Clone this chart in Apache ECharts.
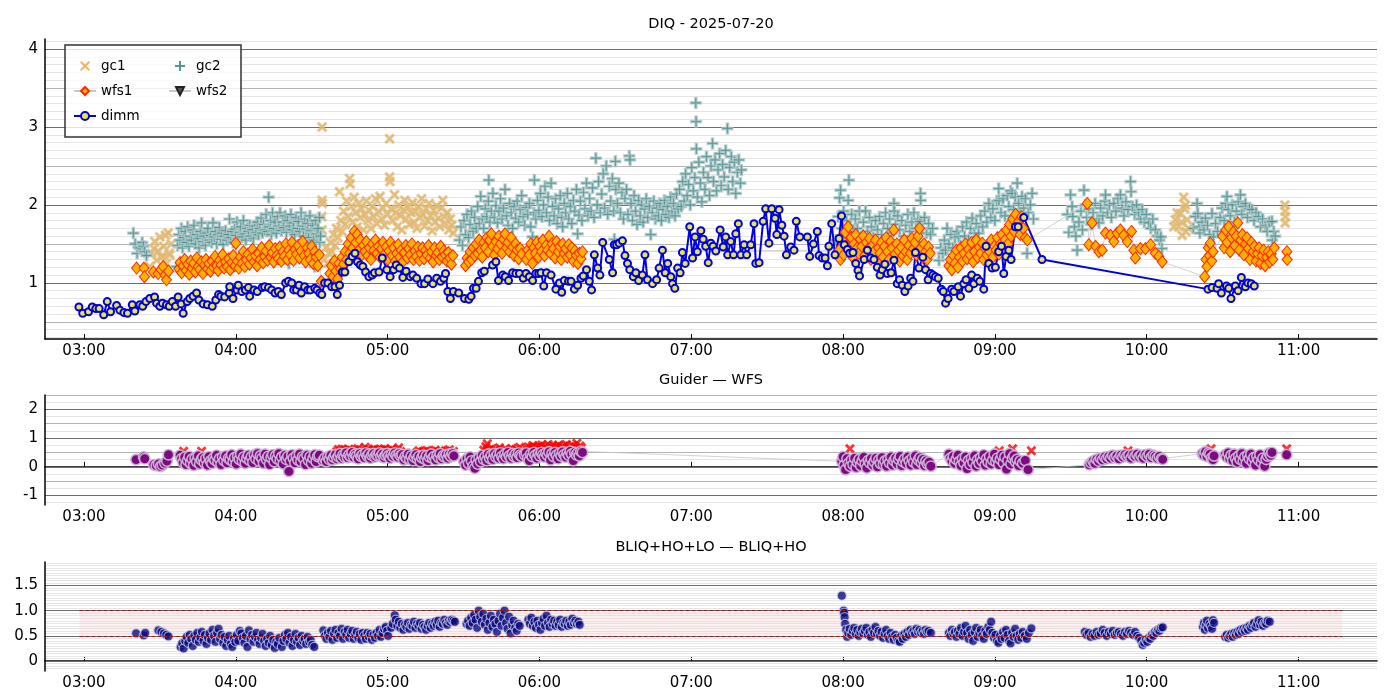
<!DOCTYPE html>
<html>
<head>
<meta charset="utf-8">
<script src="https://cdn.jsdelivr.net/npm/echarts@6/dist/echarts.min.js"></script>
<style>
  html, body { margin: 0; padding: 0; background: #fff; }
  #main { width: 1400px; height: 700px; }
</style>
</head>
<body>
<div id="main"></div>
<script>
// time = minutes after 00:00 UTC

var hourTicks = [180, 240, 300, 360, 420, 480, 540, 600, 660];

var gc1Points = [
  [206.0,1.21],[206.7,1.38],[207.6,1.44],[208.0,1.53],[208.7,1.29],[209.3,1.41],[210.0,1.59],[210.5,1.33],[211.0,1.34],[211.5,1.47],[212.2,1.61],[212.6,1.25],[213.3,1.64],[213.6,1.38],[214.0,1.36],[214.5,1.50],
  [274.1,3.00],[274.1,2.06],[274.2,2.02],[274.0,1.85],[274.1,1.68],
  [275.0,1.30],[275.6,1.45],[276.2,1.25],[276.8,1.38],[277.4,1.52],[278.0,1.40],[278.6,1.62],[279.2,1.48],[279.8,1.70],[280.4,1.58],[281.0,2.17],[281.5,1.80],[282.0,1.66],[282.6,1.92],[283.2,1.75],[283.8,2.05],[284.4,1.85],[285.0,2.34],[285.2,2.27],[285.6,1.98],[286.2,1.78],[286.8,2.10],[287.4,1.90],[288.0,1.72],[288.6,2.02],[289.2,1.84],[289.8,1.95],[290.4,1.68],[291.0,1.88],[291.6,2.05],[292.2,1.80],[292.8,1.93],[293.4,1.70],[294.0,1.98],[294.6,1.85],[295.2,2.08],[295.8,1.76],[296.4,1.92],[297.0,2.11],[297.6,1.82],[298.2,1.96],[298.8,1.74],[299.4,2.02],[300.0,1.88],[300.8,2.85],[300.8,2.36],[300.9,2.30],[301.4,1.95],[302.0,1.80],[302.7,2.13],[303.2,1.90],[303.8,1.72],[304.4,2.00],[305.0,1.86],[305.6,1.68],[306.2,1.94],[306.8,2.06],[307.4,1.82],[308.0,1.97],[308.6,1.75],[309.2,1.90],[309.8,2.03],[310.4,1.78],[311.0,1.92],[311.6,1.70],[312.2,1.98],[312.8,1.84],[313.4,2.08],[314.0,1.88],[314.6,1.73],[315.2,1.95],[315.8,1.80],[316.4,2.02],[317.0,1.86],[317.6,1.67],[318.2,1.93],[318.8,1.78],[319.4,1.99],[320.0,1.83],[320.6,1.72],[321.2,1.96],[321.8,2.06],[322.4,1.85],[323.0,1.76],[323.6,1.90],[324.2,1.68],[324.8,1.82],[325.4,1.74],[326.0,1.64],
  [610.7,1.72],[611.3,1.81],[612.0,1.90],[612.6,1.72],[613.3,1.89],[613.8,1.78],[614.0,1.61],[614.6,2.10],[615.0,1.95],[615.3,2.00],[615.5,1.66],[616.0,1.81],[616.5,1.70],
  [654.6,2.00],[654.7,1.92],[654.8,1.85],[654.7,1.77]
];

var gc2Points = [
  [199.5,1.64],[200.2,1.50],[201.0,1.38],[201.5,1.46],[202.2,1.45],[203.0,1.52],[203.5,1.47],[204.0,1.40],[204.7,1.35],
  [216.6,1.21],[217.0,1.48],[217.5,1.62],[218.0,1.55],[218.5,1.70],[219.0,1.45],[219.5,1.58],[220.0,1.66],[220.5,1.52],[221.0,1.72],[221.5,1.47],[222.0,1.60],[222.5,1.55],[223.0,1.68],[223.5,1.74],[224.0,1.50],[224.5,1.62],[225.0,1.57],[225.5,1.45],[226.0,1.66],[226.5,1.77],[227.0,1.53],[227.5,1.60],[228.0,1.48],[228.5,1.64],[229.0,1.70],[229.5,1.55],[230.0,1.61],[230.5,1.52],[231.0,1.77],[231.5,1.59],[232.0,1.66],[232.5,1.50],[233.0,1.62],[233.5,1.71],[234.0,1.56],[234.5,1.64],[235.0,1.49],[235.5,1.60],[236.0,1.67],[236.5,1.55],[237.0,1.62],[237.5,1.82],[238.0,1.58],[238.5,1.66],[239.0,1.52],[239.5,1.69],[240.0,1.61],[240.5,1.78],[241.0,1.57],[241.5,1.65],[242.0,1.72],[242.5,1.59],[243.0,1.80],[243.5,1.63],[244.0,1.55],[244.5,1.70],[245.0,1.66],[245.5,1.74],[246.0,1.60],[246.5,1.68],[247.0,1.57],[247.5,1.73],[248.0,1.65],[248.5,1.78],[249.0,1.62],[249.5,1.70],[250.0,1.83],[250.5,1.64],[251.0,1.75],[251.5,1.68],[252.0,1.88],[252.5,1.66],[253.0,2.10],[253.2,1.72],[253.7,1.80],[254.0,1.62],[254.5,1.90],[255.0,1.70],[255.5,1.78],[256.0,1.64],[256.5,1.85],[257.0,1.73],[257.5,1.90],[258.0,1.67],[258.5,1.78],[259.0,1.71],[259.5,1.86],[260.0,1.65],[260.5,1.80],[261.0,1.25],[261.3,1.73],[261.8,1.88],[262.3,1.68],[262.8,1.77],[263.3,1.62],[263.8,1.84],[264.3,1.70],[264.8,1.79],[265.3,1.66],[265.8,1.90],[266.3,1.73],[266.8,1.60],[267.3,1.82],[267.8,1.69],[268.3,1.76],[268.8,1.58],[269.3,1.86],[269.8,1.67],[270.3,1.74],[270.8,1.55],[271.2,1.21],[271.5,1.80],[272.0,1.63],[272.5,1.70],[273.0,1.84],[273.2,1.52],[273.5,1.60],
  [328.4,1.55],[329.0,1.72],[329.6,1.48],[330.2,1.80],[330.8,1.62],[331.4,1.88],[332.0,1.58],[332.6,1.75],[333.2,1.92],[333.8,1.66],[334.4,1.84],[335.0,1.70],[335.6,1.98],[336.2,1.76],[336.8,2.11],[337.4,1.82],[338.0,1.70],[338.6,1.95],[339.2,1.85],[339.8,2.05],[340.0,2.32],[340.4,1.78],[341.0,1.92],[341.6,2.15],[342.2,1.84],[342.8,1.99],[343.4,1.77],[344.0,1.92],[344.6,2.08],[345.2,1.82],[345.8,1.96],[346.4,2.20],[347.0,1.86],[347.6,1.74],[348.2,2.02],[348.8,1.90],[349.4,1.70],[350.0,1.98],[350.6,1.83],[351.2,2.05],[351.8,1.78],[352.4,1.94],[353.0,2.12],[353.6,1.85],[354.2,1.74],[354.8,1.97],[355.4,1.88],[356.0,2.02],[356.6,1.72],[357.3,1.59],[357.8,1.90],[358.0,2.32],[358.6,1.82],[359.2,2.06],[359.8,1.93],[360.4,2.15],[361.0,1.85],[361.6,2.00],[362.2,2.24],[362.8,1.90],[363.4,2.10],[364.0,1.80],[364.6,2.28],[365.2,1.98],[365.8,1.86],[366.4,2.08],[367.0,1.76],[367.6,1.95],[368.2,2.12],[368.8,1.84],[369.2,1.72],[369.8,2.02],[370.4,1.90],[371.0,2.15],[371.6,1.82],[372.2,1.98],[372.8,1.76],[373.4,2.06],[374.0,1.92],[374.6,2.20],[375.1,1.63],[375.6,1.87],[376.2,2.05],[376.8,1.80],[377.4,2.16],[378.0,1.95],[378.6,2.28],[379.2,1.86],[379.8,2.08],[380.4,1.92],[381.0,2.22],[381.6,1.84],[382.3,2.60],[382.8,2.00],[383.4,2.30],[384.0,1.90],[384.6,2.14],[385.2,2.40],[385.8,1.96],[386.4,2.50],[387.0,1.88],[387.6,2.24],[388.2,2.05],[388.8,2.34],[389.4,1.92],[389.6,1.56],[390.0,2.56],[390.2,2.20],[390.8,2.02],[391.4,2.28],[392.0,1.90],[392.6,2.16],[393.2,1.82],[393.8,2.08],[394.4,2.20],[395.0,1.88],[395.5,2.63],[395.8,2.58],[396.2,2.02],[396.8,1.80],[397.4,2.12],[398.0,1.92],[398.6,1.75],[399.2,2.06],[399.8,1.86],[400.4,2.00],[401.0,1.78],[401.6,1.95],[402.2,2.08],[402.8,1.84],[403.4,1.98],[404.0,1.62],[404.6,1.90],[405.2,2.05],[405.8,1.82],[406.4,1.96],[407.0,1.86],[407.6,2.02],[408.2,1.80],[408.8,1.94],[409.4,2.06],[410.0,1.88],[410.6,1.98],[411.2,1.84],[411.8,2.10],[412.4,1.92],[413.0,2.02],[413.6,1.86],[414.2,2.14],[414.8,1.95],[415.4,2.20],[416.0,1.98],[416.6,2.30],[417.2,2.05],[417.8,2.40],[418.4,2.12],[419.0,2.26],[419.6,2.00],[420.2,2.48],[420.8,2.18],[421.4,2.35],[421.8,3.31],[421.9,3.07],[422.0,2.72],[422.4,2.10],[423.0,2.55],[423.6,2.28],[424.2,2.04],[424.8,2.42],[425.4,2.20],[426.0,2.62],[426.6,2.35],[427.2,2.12],[427.8,2.50],[428.4,2.79],[428.8,2.30],[429.4,2.58],[430.0,2.18],[430.6,2.45],[431.2,2.66],[431.8,2.25],[432.4,2.52],[433.0,2.36],[433.6,2.70],[434.3,2.98],[434.6,2.20],[435.2,2.48],[435.8,2.62],[436.4,2.30],[437.0,2.55],[437.6,2.15],[438.2,2.42],[438.8,2.58],[439.4,2.28],[439.8,2.45],
  [477.2,1.55],[478.0,1.85],[478.6,2.09],[479.0,2.19],[479.5,1.70],[480.2,1.92],[480.8,1.62],[481.4,1.80],[482.0,2.06],[482.3,2.32],[482.8,1.74],[483.4,1.88],[484.0,1.66],[484.8,1.82],[485.6,1.70],[486.4,1.92],[487.2,1.60],[488.0,1.78],[488.9,1.92],[489.6,1.66],[490.4,1.84],[491.2,1.72],[492.0,1.58],[492.8,1.80],[493.6,1.68],[494.4,1.85],[495.2,1.62],[496.0,1.76],[496.8,1.90],[497.6,1.70],[498.4,1.82],[499.2,1.64],[500.1,2.02],[500.2,1.92],[500.8,1.75],[501.6,1.86],[502.4,1.68],[503.2,1.80],[504.0,1.60],[504.8,1.74],[505.6,1.88],[506.4,1.66],[507.2,1.78],[508.0,1.90],[508.8,1.70],[509.6,1.82],[510.4,1.79],[510.6,2.15],[510.7,2.06],[511.4,1.70],[512.2,1.84],[513.0,1.64],[513.8,1.76],[514.6,1.62],[515.4,1.70],
  [517.9,1.29],[518.6,1.45],[519.4,1.38],[520.0,1.55],[520.5,1.42],[521.1,1.70],[521.8,1.50],[522.6,1.62],[523.4,1.45],[524.2,1.58],[525.0,1.66],[525.7,1.59],[526.4,1.48],[527.2,1.72],[528.0,1.60],[528.8,1.78],[529.6,1.55],[530.4,1.70],[531.0,1.83],[531.8,1.64],[532.6,1.76],[533.6,1.64],[534.4,1.86],[535.2,1.72],[536.0,1.92],[536.8,1.78],[537.6,2.02],[538.4,1.84],[539.2,1.95],[540.0,1.80],[540.8,2.05],[541.5,2.21],[541.6,2.06],[542.4,1.90],[543.2,2.08],[544.0,1.86],[544.8,2.12],[545.5,1.98],[546.2,2.18],[546.8,2.15],[547.4,1.94],[548.0,2.10],[548.8,2.28],[549.4,2.02],[550.0,1.88],[550.7,2.11],[551.4,1.96],[552.0,2.08],[552.7,1.38],[553.2,1.90],[554.0,2.00],[554.7,2.15],[555.2,1.82],
  [568.6,1.88],[569.2,1.65],[569.9,2.13],[570.5,1.98],[570.8,1.85],[571.4,1.72],[572.0,1.60],[572.5,1.42],[573.2,1.78],[574.0,1.92],[574.6,1.68],[575.2,2.19],[575.8,2.00],[576.4,1.84],[577.2,1.95],[578.0,1.75],[578.8,1.90],[579.6,2.02],[580.4,1.82],[581.1,1.77],[581.8,1.96],[582.6,1.86],[583.4,2.05],[583.7,2.13],[584.4,1.90],[585.2,2.00],[586.0,1.84],[587.0,2.02],[587.8,1.92],[588.6,2.08],[589.6,2.13],[590.2,1.96],[591.0,1.86],[591.8,2.04],[592.6,1.94],[593.6,2.30],[593.8,2.17],[594.4,1.98],[595.2,1.88],[596.0,2.00],[596.8,1.90],[597.6,1.82],[598.2,1.94],[599.0,1.78],[599.8,1.88],[600.8,1.77],[601.6,1.70],[602.4,1.82],[603.4,1.68],[604.2,1.60],[605.0,1.55],[605.6,1.59],[606.0,1.44],
  [618.4,1.70],[619.2,1.85],[619.9,2.02],[620.2,1.89],[620.6,1.72],[621.0,1.64],[621.8,1.78],[622.6,1.68],[623.2,1.83],[624.0,1.74],[624.8,1.62],[625.8,1.89],[626.4,1.59],[627.2,1.76],[628.0,1.66],[629.0,1.84],[629.8,1.96],[630.6,1.80],[631.2,2.02],[631.7,2.11],[632.2,1.94],[633.0,1.86],[633.8,2.00],[634.6,1.78],[635.4,1.92],[636.2,2.04],[637.0,2.13],[637.6,1.88],[638.4,1.98],[639.0,2.02],[639.8,1.84],[640.6,1.95],[641.6,1.94],[642.4,1.80],[643.2,1.90],[644.2,1.85],[645.0,1.72],[645.8,1.82],[646.9,1.74],[647.6,1.66],[648.4,1.78],[649.5,1.79],[649.6,1.55],[650.2,1.66],[650.8,1.60]
];

var wfs1Points = [
  [200.8,1.19],[203.7,1.19],[203.9,1.08],[207.4,1.14],[209.3,1.12],[210.5,1.17],[211.3,1.21],[212.0,1.10],[212.6,1.04],[213.4,1.15],
  [217.5,1.18],[218.0,1.26],[218.6,1.13],[219.2,1.22],[219.8,1.30],[220.4,1.16],[221.0,1.24],[221.6,1.11],[222.2,1.28],[222.8,1.19],[223.4,1.25],[224.0,1.14],[224.6,1.32],[225.2,1.21],[225.8,1.17],[226.4,1.27],[227.0,1.12],[227.6,1.23],[228.2,1.30],[228.8,1.18],[229.4,1.25],[230.0,1.15],[230.6,1.28],[231.2,1.20],[231.8,1.34],[232.4,1.22],[233.0,1.16],[233.6,1.29],[234.2,1.23],[234.8,1.36],[235.4,1.19],[236.0,1.27],[236.6,1.21],[237.2,1.31],[237.8,1.17],[238.4,1.26],[239.0,1.35],[239.6,1.22],[240.0,1.51],[240.6,1.28],[241.2,1.19],[241.8,1.33],[242.4,1.25],[243.0,1.40],[243.6,1.21],[244.2,1.30],[244.8,1.37],[245.4,1.24],[246.0,1.32],[246.6,1.43],[247.2,1.27],[247.8,1.35],[248.4,1.22],[249.0,1.38],[249.6,1.30],[250.2,1.45],[250.8,1.26],[251.4,1.34],[252.0,1.41],[252.6,1.29],[253.2,1.48],[253.8,1.33],[254.4,1.39],[255.0,1.27],[255.6,1.44],[256.2,1.35],[256.8,1.31],[257.4,1.46],[258.0,1.28],[258.6,1.40],[259.2,1.34],[259.8,1.50],[260.4,1.30],[261.0,1.42],[261.6,1.36],[262.2,1.52],[262.8,1.29],[263.4,1.43],[264.0,1.37],[264.6,1.48],[265.2,1.32],[265.8,1.41],[266.4,1.53],[267.0,1.35],[267.6,1.27],[268.2,1.45],[268.8,1.38],[269.4,1.30],[270.0,1.47],[270.6,1.25],[271.2,1.40],[271.8,1.33],[272.4,1.22],[273.0,1.36],[273.8,1.02],
  [277.2,1.12],[277.8,1.22],[278.4,1.08],[279.0,1.28],[279.6,1.15],[280.2,1.05],[280.8,1.25],[281.4,1.18],[282.0,1.33],[282.6,1.24],[283.2,1.40],[283.8,1.30],[284.4,1.50],[285.0,1.38],[285.6,1.58],[286.2,1.45],[286.8,1.66],[287.4,1.52],[288.0,1.62],[288.6,1.42],[289.2,1.55],[289.8,1.36],[290.4,1.48],[291.0,1.40],[291.6,1.53],[292.2,1.35],[292.8,1.45],[293.4,1.30],[294.0,1.50],[294.6,1.42],[295.2,1.55],[295.8,1.38],[296.4,1.47],[297.0,1.33],[297.6,1.44],[298.2,1.52],[298.8,1.37],[299.4,1.46],[300.0,1.30],[300.6,1.41],[301.2,1.52],[301.8,1.35],[302.4,1.45],[303.0,1.28],[303.6,1.38],[304.2,1.49],[304.8,1.33],[305.4,1.42],[306.0,1.27],[306.6,1.39],[307.2,1.48],[307.8,1.32],[308.4,1.44],[309.0,1.36],[309.6,1.50],[310.2,1.30],[310.8,1.41],[311.4,1.34],[312.0,1.46],[312.6,1.29],[313.2,1.38],[313.8,1.45],[314.4,1.31],[315.0,1.42],[315.6,1.36],[316.2,1.48],[316.8,1.32],[317.4,1.40],[318.0,1.27],[318.6,1.45],[319.2,1.35],[319.8,1.39],[320.4,1.30],[321.0,1.47],[321.6,1.33],[322.2,1.41],[322.8,1.36],[323.4,1.28],[324.0,1.39],[324.6,1.32],[325.2,1.24],[325.8,1.35],
  [330.8,1.22],[331.4,1.32],[332.0,1.27],[332.6,1.40],[333.2,1.30],[333.8,1.45],[334.4,1.35],[335.0,1.50],[335.6,1.38],[336.2,1.55],[336.8,1.42],[337.4,1.33],[338.0,1.52],[338.6,1.45],[339.2,1.58],[339.8,1.40],[340.4,1.55],[341.0,1.63],[341.6,1.47],[342.2,1.36],[342.8,1.53],[343.4,1.44],[344.0,1.60],[344.6,1.50],[345.2,1.38],[345.8,1.56],[346.4,1.63],[347.0,1.45],[347.6,1.52],[348.2,1.40],[348.8,1.58],[349.4,1.46],[350.0,1.35],[350.6,1.50],[351.2,1.42],[351.8,1.31],[352.4,1.44],[353.0,1.37],
  [354.8,1.30],[355.4,1.42],[356.0,1.36],[356.6,1.50],[357.2,1.25],[357.8,1.45],[358.4,1.38],[359.0,1.52],[359.6,1.33],[360.2,1.47],[360.8,1.40],[361.4,1.55],[362.0,1.35],[362.6,1.48],[363.2,1.42],[363.8,1.60],[364.4,1.38],[365.0,1.50],[365.6,1.44],[366.2,1.32],[366.8,1.53],[367.4,1.40],[368.0,1.47],[368.6,1.30],[369.2,1.50],[369.8,1.38],[370.4,1.44],[371.0,1.33],[371.6,1.49],[372.2,1.36],[372.8,1.45],[373.4,1.28],[374.0,1.41],[374.6,1.35],[375.2,1.25],[375.8,1.38],[376.4,1.31],[377.0,1.40],
  [478.4,1.42],[479.0,1.30],[479.6,1.55],[480.2,1.36],[480.8,1.65],[481.4,1.48],[482.0,1.72],[482.6,1.40],[483.2,1.58],[483.8,1.33],[484.4,1.50],[485.0,1.62],[485.6,1.45],[486.2,1.38],[486.8,1.56],[487.4,1.47],[488.0,1.60],[488.6,1.35],[489.2,1.52],[489.8,1.43],[490.4,1.57],[491.0,1.30],[491.6,1.48],[492.2,1.40],[492.8,1.55],[493.4,1.28],[494.0,1.45],[494.6,1.38],[495.2,1.52],[495.8,1.33],[496.4,1.47],[497.0,1.58],[497.6,1.40],[498.2,1.30],[498.8,1.53],[499.4,1.45],[500.0,1.68],[500.6,1.37],[501.2,1.50],[501.8,1.42],[502.4,1.28],[503.0,1.46],[503.6,1.35],[504.2,1.55],[504.8,1.40],[505.4,1.30],[506.0,1.48],[506.6,1.38],[507.2,1.57],[507.8,1.44],[508.4,1.52],[509.0,1.36],[509.6,1.60],[510.2,1.70],[510.8,1.45],[511.4,1.33],[512.0,1.50],[512.6,1.40],[513.2,1.30],[513.8,1.46],[514.4,1.38],
  [521.8,1.22],[522.4,1.30],[523.0,1.17],[523.6,1.35],[524.2,1.25],[524.8,1.42],[525.4,1.20],[526.0,1.33],[526.6,1.45],[527.2,1.28],[527.8,1.38],[528.4,1.50],[529.0,1.31],[529.6,1.43],[530.2,1.36],[530.8,1.52],[531.4,1.27],[532.0,1.40],[532.6,1.55],[533.2,1.33],[533.8,1.46],[534.4,1.38],[535.0,1.51],[535.6,1.30],[536.2,1.44],[536.8,1.36],[537.4,1.48],[538.0,1.40],[538.6,1.55],[539.2,1.33],[539.8,1.47],[540.4,1.42],[541.0,1.58],[541.6,1.37],[542.2,1.50],[542.8,1.62],[543.4,1.45],[544.0,1.55],[544.6,1.68],[545.2,1.50],[545.8,1.75],[546.4,1.60],[547.0,1.82],[547.6,1.66],[548.2,1.88],[548.8,1.72],[549.4,1.79],[550.0,1.62],[550.6,1.85],[551.2,1.70],[552.0,1.58],[552.8,1.55],
  [576.5,2.02],[577.1,1.49],[578.4,1.77],[579.8,1.47],[581.1,1.40],[582.4,1.42],[583.7,1.64],[585.7,1.61],[587.0,1.53],[588.3,1.64],[589.6,1.68],[590.9,1.61],[592.3,1.53],[594.0,1.66],[594.9,1.42],[595.5,1.32],[597.5,1.44],[599.5,1.44],[601.5,1.49],[603.4,1.38],[604.8,1.34],[606.1,1.27],
  [622.9,1.08],[623.4,1.30],[623.8,1.21],[624.3,1.45],[624.8,1.35],[625.1,1.51],[625.7,1.28],[626.2,1.40],[630.0,1.60],[630.6,1.45],[631.2,1.68],[631.8,1.52],[632.4,1.72],[633.0,1.40],[633.6,1.58],[634.2,1.65],[634.8,1.48],[635.4,1.60],[636.0,1.77],[636.6,1.42],[637.2,1.55],[637.8,1.62],[638.4,1.36],[639.0,1.50],[639.6,1.58],[640.2,1.44],[640.8,1.30],[641.4,1.52],[642.0,1.40],[642.6,1.47],[643.2,1.28],[643.8,1.38],[644.4,1.45],[645.0,1.25],[645.6,1.35],[646.2,1.42],[646.8,1.22],[647.4,1.33],[648.0,1.40],[648.6,1.27],[649.2,1.37],[649.8,1.30],[650.4,1.45],[655.4,1.40],[655.5,1.30]
];

var wfs2Points = [];

var dimmPoints = [
  [178.0,0.69],[179.5,0.61],[181.8,0.63],[183.3,0.69],[184.7,0.67],[186.0,0.67],[187.8,0.59],[189.2,0.76],[190.5,0.63],[192.9,0.71],[194.2,0.65],[195.8,0.62],[197.2,0.61],[199.1,0.72],[200.1,0.64],[202.1,0.72],[203.2,0.70],[204.5,0.76],[206.0,0.80],[207.9,0.82],[208.7,0.74],[210.0,0.70],[211.0,0.74],[212.6,0.72],[213.7,0.70],[214.9,0.76],[216.2,0.70],[217.2,0.82],[218.4,0.73],[219.2,0.61],[220.8,0.76],[221.8,0.80],[223.1,0.83],[224.5,0.87],[225.4,0.78],[227.1,0.73],[228.8,0.72],[230.7,0.70],[232.1,0.78],[233.2,0.85],[234.1,0.83],[235.6,0.82],[237.4,0.87],[237.6,0.95],[238.9,0.80],[240.5,0.91],[241.0,0.97],[242.4,0.89],[243.8,0.91],[245.0,0.94],[245.5,0.83],[247.2,0.91],[248.5,0.89],[250.4,0.94],[251.4,0.95],[252.9,0.94],[254.2,0.91],[255.5,0.87],[256.8,0.89],[258.0,0.85],[259.7,1.00],[260.8,1.02],[262.1,1.00],[262.9,0.91],[264.0,0.91],[265.0,0.97],[265.9,0.87],[267.2,0.95],[268.5,0.91],[269.5,0.91],[271.2,0.93],[272.1,0.91],[273.2,0.87],[274.0,0.85],[275.1,1.00],[276.4,1.00],[277.9,0.95],[279.2,0.95],[280.1,0.85],[281.0,0.97],[282.1,1.14],[283.1,1.14],[284.7,1.27],[286.0,1.34],[287.1,1.38],[288.1,1.27],[289.2,1.23],[290.2,1.21],[291.3,1.14],[292.6,1.08],[293.9,1.10],[294.8,1.13],[296.6,1.14],[297.9,1.32],[299.7,1.17],[301.0,1.08],[302.4,1.17],[303.4,1.23],
  [304.7,1.19],[306.0,1.07],[307.3,1.15],[308.9,1.08],[310.0,1.10],[311.5,1.06],[313.2,0.99],[314.6,0.99],[315.9,1.05],[317.9,0.99],[319.4,1.06],[320.9,1.02],[322.2,1.06],[322.9,1.12],[323.8,0.89],[324.8,0.80],[326.0,0.89],[328.1,0.87],[330.4,0.80],[332.1,0.79],[333.0,0.83],[333.9,0.93],[335.0,0.93],[335.9,1.02],[337.2,1.13],[338.2,1.15],[341.5,1.23],[342.8,1.27],[343.8,1.03],[345.5,1.10],[346.5,1.08],[347.8,1.03],[349.4,1.13],[350.7,1.12],[352.1,1.12],[353.6,1.06],[354.7,1.12],[356.0,1.08],[357.3,1.03],[358.6,1.12],[359.7,1.12],[360.6,1.13],[361.7,0.96],[362.8,1.13],[364.6,1.10],[366.5,0.92],[367.9,1.00],[368.8,0.88],[369.8,1.03],[371.5,1.02],[372.5,1.02],[373.8,0.92],[375.1,0.97],[376.4,1.06],[377.3,1.09],[378.6,1.17],[379.7,1.02],[380.6,0.91],[381.7,1.36],[383.0,1.19],[383.9,1.10],[385.0,1.52],[387.6,1.30],[388.9,1.13],[389.6,1.49],[390.5,1.49],[391.5,1.51],[392.8,1.54],[393.8,1.35],[394.8,1.25],[395.7,1.17],[397.1,1.08],[398.1,1.13],[399.2,1.03],[400.7,1.10],[401.7,1.36],[402.7,1.04],[404.7,0.99],[406.3,1.04],[407.3,1.19],[408.6,1.42],[409.7,1.13],[410.7,1.25],[411.9,1.08],[412.6,0.99],[413.5,0.93],[414.6,1.19],[415.6,1.13],[416.5,1.39],[417.6,1.25],[419.4,1.72],[420.5,1.32],[421.5,1.59],[422.4,1.40],[423.8,1.67],[424.7,1.56],[425.7,1.47],[426.7,1.26],[427.7,1.51],[428.6,1.47],[429.7,1.41],[431.4,1.68],[432.6,1.46],[433.6,1.59],[434.4,1.36],[435.6,1.53],[436.7,1.36],[437.6,1.63],[438.6,1.76],[439.6,1.36],[440.9,1.49],[441.9,1.36],[443.5,1.49],[444.8,1.76],[445.5,1.25],[446.8,1.26],[448.4,1.79],[449.4,1.95],[450.7,1.51],[451.8,1.95],[453.1,1.83],[453.8,1.62],[454.7,1.94],
  [455.8,1.74],[456.7,1.60],[457.6,1.36],[459.3,1.46],[460.6,1.42],[461.5,1.79],[462.9,1.59],[465.9,1.59],[466.8,1.34],[468.3,1.50],[469.8,1.66],[470.5,1.35],[471.8,1.32],[472.9,1.32],[473.8,1.22],[474.4,1.47],[475.5,1.76],[476.8,1.36],[478.4,1.57],[479.4,1.86],[480.5,1.49],[481.7,1.43],[482.6,1.38],[483.9,1.39],[485.0,1.25],[485.9,1.16],[486.5,1.09],[488.3,1.30],[489.6,1.42],[490.9,1.32],[492.2,1.30],[493.5,1.20],[494.6,1.10],[495.5,1.17],[496.5,1.24],[497.5,1.12],[499.0,1.13],[500.1,1.29],[501.4,0.99],[502.3,1.04],[503.4,0.97],[504.4,0.89],[505.7,0.96],[506.7,1.06],[507.6,1.02],[508.6,1.39],[510.0,1.19],[511.5,1.33],[512.6,1.17],[513.6,1.04],[514.6,1.12],[515.5,1.10],[516.5,1.08],[517.6,1.06],[518.8,0.92],[519.6,0.89],[520.5,0.74],[521.5,0.80],[522.9,0.92],[523.8,0.89],[525.5,0.95],[526.4,0.83],[527.7,0.99],[528.6,1.04],[529.7,0.93],[530.8,1.10],[531.7,0.99],[533.0,1.06],[534.0,1.02],[535.6,0.92],[536.5,1.47],[537.6,1.25],[538.9,1.19],[540.2,1.20],[541.5,1.40],[542.6,1.47],[543.5,1.12],[544.4,1.34],[545.5,1.42],[546.4,1.30],[548.1,1.72],[549.2,1.72],[551.4,1.84],[558.6,1.30],
  [624.2,0.92],[625.8,0.94],[627.8,0.93],[628.4,0.99],[629.5,0.87],[631.5,0.96],[632.4,0.93],[633.3,0.80],[635.0,0.96],[636.1,0.90],[637.4,1.07],[639.0,0.95],[640.0,1.00],[641.3,0.99],[642.5,0.96]
];

var guiderPoints = [
  [200.6,0.25],[203.6,0.34],[204.0,0.28],[207.6,0.07],[208.6,0.04],[209.5,0.10],[210.3,0.01],[211.0,0.06],[212.0,0.13],[212.8,0.20],[213.4,0.42],
  [218.0,0.40],[218.6,0.28],[219.2,0.15],[219.8,0.33],[220.4,0.08],[221.0,0.22],[221.6,0.36],[222.2,0.12],[222.8,0.27],[223.4,0.05],[224.0,0.30],[224.6,0.18],[225.2,0.38],[225.8,0.10],[226.4,0.25],[227.0,0.32],[227.6,0.14],[228.2,0.28],[228.8,0.06],[229.4,0.35],[230.0,0.20],[230.6,0.12],[231.2,0.30],[231.8,0.24],[232.4,0.40],[233.0,0.16],[233.6,0.28],[234.2,0.08],[234.8,0.34],[235.4,0.22],[236.0,0.38],[236.6,0.14],[237.2,0.30],[237.8,0.25],[238.4,0.42],[239.0,0.18],[239.6,0.32],[240.2,0.10],[240.8,0.36],[241.4,0.26],[242.0,0.44],[242.6,0.20],[243.2,0.34],[243.8,0.12],[244.4,0.30],[245.0,0.40],[245.6,0.22],[246.2,0.35],[246.8,0.15],[247.4,0.42],[248.0,0.28],[248.6,0.46],[249.2,0.20],[249.8,0.38],[250.4,0.30],[251.0,0.12],[251.6,0.44],[252.2,0.26],[252.8,0.36],[253.4,0.08],[254.0,0.32],[254.6,0.42],[255.2,0.18],[255.8,0.38],[256.4,0.28],[257.0,0.46],[257.6,0.22],[258.2,0.34],[258.8,0.10],[259.4,0.40],[260.0,0.26],[260.6,0.36],[261.0,-0.16],[261.6,0.20],[262.2,0.42],[262.8,0.30],[263.4,0.14],[264.0,0.38],[264.6,0.24],[265.2,0.44],[265.8,0.18],[266.4,0.34],[267.0,0.28],[267.6,0.08],[268.2,0.40],[268.8,0.22],[269.4,0.35],[270.0,0.12],[270.6,0.30],[271.2,0.42],[271.8,0.18],[272.4,0.36],[273.0,0.40],
  [274.6,0.22],[275.2,0.30],[275.8,0.18],[276.4,0.35],[277.0,0.26],[277.6,0.40],[278.2,0.24],[278.8,0.33],[279.4,0.42],[280.0,0.28],[280.6,0.36],[281.2,0.46],[281.8,0.30],[282.4,0.40],[283.0,0.34],[283.6,0.48],[284.2,0.32],[284.8,0.42],[285.4,0.36],[286.0,0.50],[286.6,0.34],[287.2,0.44],[287.8,0.38],[288.4,0.28],[289.0,0.46],[289.6,0.36],[290.2,0.42],[290.8,0.32],[291.4,0.48],[292.0,0.38],[292.6,0.44],[293.2,0.30],[293.8,0.40],[294.4,0.46],[295.0,0.34],[295.6,0.42],[296.2,0.38],[296.8,0.48],[297.4,0.36],[298.0,0.44],[298.6,0.32],[299.2,0.40],[299.8,0.46],[300.4,0.38],[301.0,0.30],[301.6,0.44],[302.2,0.36],[302.8,0.48],[303.4,0.40],[304.0,0.34],[304.6,0.46],[305.2,0.38],[305.8,0.42],[306.4,0.24],[307.0,0.36],[307.6,0.30],[308.2,0.44],[308.8,0.26],[309.4,0.38],[310.0,0.22],[310.6,0.34],[311.2,0.42],[311.8,0.28],[312.4,0.36],[313.0,0.18],[313.6,0.32],[314.2,0.40],[314.8,0.26],[315.4,0.38],[316.0,0.22],[316.6,0.34],[317.2,0.44],[317.8,0.30],[318.4,0.36],[319.0,0.24],[319.6,0.40],[320.2,0.32],[320.8,0.46],[321.4,0.28],[322.0,0.38],[322.6,0.34],[323.2,0.42],[323.8,0.30],[324.4,0.44],[325.0,0.36],[325.6,0.46],[326.2,0.38],
  [330.2,0.18],[330.8,0.06],[331.4,0.28],[332.0,0.12],[332.6,0.34],[333.2,0.20],[333.8,0.02],[334.5,-0.05],[335.0,0.24],[335.6,0.10],[336.2,0.32],[336.8,0.18],[337.4,0.40],[338.0,0.26],[338.6,0.36],[339.2,0.22],[339.8,0.44],[340.4,0.30],[341.0,0.40],[341.6,0.26],[342.2,0.46],[342.8,0.34],[343.4,0.42],[344.0,0.30],[344.6,0.48],[345.2,0.36],[345.8,0.28],[346.4,0.44],[347.0,0.34],[347.6,0.50],[348.2,0.38],[348.8,0.30],[349.4,0.46],[350.0,0.36],[350.6,0.44],[351.2,0.32],[351.8,0.48],[352.4,0.40],[353.0,0.36],[354.2,0.42],[354.8,0.48],[355.4,0.30],[356.0,0.22],[356.6,0.44],[357.2,0.36],[357.8,0.50],[358.4,0.40],[359.0,0.30],[359.6,0.46],[360.2,0.38],[360.8,0.50],[361.4,0.42],[362.0,0.34],[362.6,0.48],[363.2,0.40],[363.8,0.52],[364.4,0.24],[365.0,0.46],[365.6,0.36],[366.2,0.50],[366.8,0.40],[367.4,0.28],[368.0,0.48],[368.6,0.38],[369.2,0.52],[369.8,0.42],[370.4,0.34],[371.0,0.48],[371.6,0.40],[372.2,0.54],[372.8,0.44],[373.4,0.22],[374.0,0.50],[374.6,0.42],[375.2,0.48],[375.8,0.38],[376.4,0.54],[377.0,0.50],
  [479.5,0.19],[480.0,0.35],[480.4,0.05],[481.0,-0.10],[481.6,0.28],[482.2,0.12],[482.8,0.02],[483.4,0.24],[484.0,0.08],[484.6,0.30],[485.2,-0.02],[485.8,0.16],[486.4,0.26],[487.0,0.04],[487.6,0.20],[488.2,0.33],[488.8,0.10],[489.4,-0.04],[490.0,0.22],[490.6,0.14],[491.2,0.28],[491.8,0.06],[492.4,0.18],[493.0,0.30],[493.6,0.00],[494.2,0.24],[494.8,0.12],[495.4,0.32],[496.0,0.08],[496.6,0.20],[497.2,0.02],[497.8,0.26],[498.4,0.14],[499.0,0.34],[499.6,0.06],[500.2,0.22],[500.8,0.30],[501.4,0.10],[502.0,0.26],[502.6,0.36],[503.2,0.04],[503.8,0.18],[504.4,0.28],[505.0,0.12],[505.6,0.34],[506.2,0.20],[506.8,0.06],[507.4,0.30],[508.0,0.16],[508.6,0.38],[509.2,0.08],[509.8,0.24],[510.4,0.32],[511.0,0.14],[511.6,0.26],[512.2,0.04],[512.8,0.20],[513.4,0.10],[514.0,0.16],[514.7,0.02],
  [521.8,0.44],[522.4,0.30],[523.0,0.20],[523.6,0.36],[524.2,0.12],[524.8,0.26],[525.4,0.40],[526.0,0.18],[526.6,0.04],[527.2,0.28],[527.8,0.14],[528.4,0.34],[529.0,-0.06],[529.6,0.22],[530.2,0.08],[530.8,0.30],[531.4,0.16],[532.0,0.38],[532.6,0.02],[533.2,0.24],[533.8,0.12],[534.4,0.32],[535.0,0.20],[535.6,0.42],[536.2,0.06],[536.8,0.28],[537.4,0.16],[538.0,0.36],[538.6,0.10],[539.2,0.24],[539.8,0.44],[540.4,0.18],[541.0,0.30],[541.6,0.08],[542.2,0.26],[542.8,0.40],[543.4,0.14],[544.0,0.34],[544.6,-0.08],[545.2,0.22],[545.8,0.46],[546.4,0.10],[547.0,0.30],[547.6,0.38],[548.2,0.18],[548.8,0.26],[549.4,0.04],[550.0,0.20],[551.0,0.12],[552.0,0.22],[553.1,-0.10],
  [577.3,0.07],[578.0,0.14],[578.8,0.20],[579.5,0.12],[580.2,0.26],[581.0,0.20],[581.8,0.30],[582.6,0.24],[583.4,0.34],[584.2,0.28],[585.0,0.36],[585.8,0.30],[586.6,0.40],[587.4,0.32],[588.2,0.38],[589.0,0.28],[589.8,0.40],[590.6,0.34],[591.4,0.42],[592.2,0.36],[593.0,0.40],[593.8,0.30],[594.6,0.42],[595.4,0.36],[596.2,0.44],[597.0,0.34],[597.8,0.40],[598.6,0.30],[599.4,0.42],[600.2,0.36],[601.0,0.44],[601.8,0.32],[602.6,0.40],[603.4,0.36],[604.2,0.30],[605.0,0.36],[605.8,0.28],[606.3,0.26],
  [622.0,0.46],[622.6,0.40],[623.2,0.52],[623.8,0.36],[624.4,0.48],[625.0,0.44],[625.6,0.30],[626.2,0.25],[626.6,0.38],
  [631.0,0.42],[631.6,0.34],[632.2,0.48],[632.8,0.28],[633.4,0.40],[634.0,0.22],[634.6,0.44],[635.2,0.30],[635.8,0.16],[636.4,0.38],[637.0,0.26],[637.6,0.46],[638.2,0.20],[638.8,0.34],[639.4,0.12],[640.0,0.40],[640.6,0.28],[641.2,0.44],[641.8,0.18],[642.4,0.32],[643.0,0.06],[643.6,0.36],[644.2,0.24],[644.8,0.42],[645.4,0.14],[646.0,0.30],[646.6,0.02],[647.2,0.26],[647.8,0.38],[648.4,0.48],[649.0,0.40],[649.5,0.50],[655.3,0.42]
];

var wfsFlagPoints = [
  [219.4,0.54],[226.5,0.54],
  [279.9,0.52],[280.6,0.60],[281.3,0.55],[282.0,0.62],[282.7,0.50],[283.4,0.58],[284.1,0.53],[284.8,0.61],[285.5,0.56],[286.2,0.50],[286.9,0.59],[287.6,0.54],[288.3,0.63],[289.0,0.52],[289.7,0.58],[290.4,0.55],[291.1,0.68],[291.8,0.53],[292.5,0.60],[293.2,0.51],[293.9,0.57],[294.6,0.62],[295.3,0.54],[296.0,0.59],[296.7,0.52],[297.4,0.60],[298.1,0.56],[298.8,0.63],[299.5,0.51],[300.2,0.57],[300.9,0.54],[301.6,0.61],[302.3,0.55],[303.0,0.50],[303.7,0.58],[304.4,0.66],[305.1,0.53],
  [311.6,0.50],[312.4,0.56],[313.2,0.46],[314.0,0.53],[314.8,0.49],[315.6,0.57],[316.4,0.47],[317.2,0.54],[318.0,0.50],[318.8,0.58],[319.6,0.45],[320.4,0.52],[321.2,0.56],[322.0,0.48],[322.8,0.55],[323.6,0.51],[324.4,0.59],[325.2,0.47],[326.0,0.53],
  [338.0,0.58],[338.8,0.70],[339.4,0.80],[340.2,0.55],[341.0,0.63],[341.8,0.50],[342.6,0.60],[343.4,0.54],[344.2,0.66],[345.0,0.52],[345.8,0.58],[346.6,0.62],[347.4,0.50],[348.2,0.57],[349.0,0.64],[349.8,0.53],[350.6,0.60],[351.4,0.56],[352.2,0.68],[353.0,0.55],
  [355.0,0.62],[355.6,0.70],[356.2,0.55],[356.8,0.66],[357.4,0.74],[358.0,0.60],[358.6,0.68],[359.2,0.52],[359.8,0.72],[360.4,0.63],[361.0,0.76],[361.6,0.58],[362.2,0.70],[362.8,0.64],[363.4,0.78],[364.0,0.56],[364.6,0.68],[365.2,0.74],[365.8,0.60],[366.4,0.70],[367.0,0.62],[367.6,0.76],[368.2,0.54],[368.8,0.66],[369.4,0.72],[370.0,0.60],[370.6,0.78],[371.2,0.64],[371.8,0.70],[372.4,0.56],[373.0,0.74],[373.6,0.62],[374.2,0.68],[374.8,0.82],[375.4,0.60],[376.0,0.72],[376.6,0.66],
  [482.7,0.63],[541.7,0.56],[547.0,0.63],[554.4,0.56],[592.6,0.56],[625.4,0.63],[655.3,0.63]
];

var bliqPoints = [
  [200.6,0.55],[203.6,0.51],[204.2,0.56],[209.4,0.61],[210.6,0.58],[211.6,0.55],[212.5,0.52],[213.4,0.49],
  [218.2,0.28],[218.8,0.35],[219.4,0.25],[220.0,0.40],[220.6,0.48],[221.2,0.36],[221.8,0.52],[222.4,0.44],[223.0,0.30],[223.6,0.50],[224.2,0.42],[224.8,0.56],[225.4,0.38],[226.0,0.47],[226.6,0.58],[227.2,0.40],[227.8,0.52],[228.4,0.34],[229.0,0.46],[229.6,0.55],[230.2,0.42],[230.8,0.62],[231.4,0.50],[232.0,0.38],[232.6,0.56],[233.2,0.64],[233.8,0.44],[234.4,0.52],[235.0,0.36],[235.6,0.48],[236.2,0.30],[236.8,0.42],[237.4,0.50],[238.0,0.34],[238.6,0.28],[239.2,0.45],[239.8,0.38],[240.4,0.52],[241.0,0.40],[241.6,0.60],[242.2,0.55],[242.8,0.46],[243.4,0.36],[244.0,0.50],[244.6,0.28],[245.2,0.61],[245.8,0.44],[246.4,0.52],[247.0,0.38],[247.6,0.48],[248.2,0.56],[248.8,0.42],[249.4,0.34],[250.0,0.46],[250.6,0.54],[251.2,0.40],[251.8,0.30],[252.4,0.44],[253.0,0.36],[253.6,0.50],[254.2,0.32],[254.8,0.42],[255.4,0.26],[256.0,0.38],[256.6,0.34],[257.2,0.46],[258.2,0.28],[258.8,0.40],[259.4,0.52],[260.0,0.44],[260.6,0.56],[261.2,0.36],[261.8,0.48],[262.4,0.30],[263.0,0.42],[263.6,0.54],[264.2,0.38],[264.8,0.46],[265.4,0.32],[266.0,0.50],[266.6,0.40],[267.2,0.44],[267.8,0.34],[268.4,0.48],[269.0,0.38],[269.6,0.42],[270.2,0.32],[271.0,0.28],
  [274.6,0.61],[275.2,0.50],[275.8,0.44],[276.4,0.56],[277.0,0.48],[277.6,0.60],[278.2,0.42],[278.8,0.54],[279.4,0.62],[280.0,0.46],[280.6,0.56],[281.2,0.50],[281.8,0.64],[282.4,0.44],[283.0,0.58],[283.6,0.52],[284.2,0.62],[284.8,0.46],[285.4,0.54],[286.0,0.60],[286.6,0.44],[287.2,0.52],[287.8,0.58],[288.4,0.46],[289.0,0.54],[289.6,0.42],[290.2,0.56],[290.8,0.50],[291.4,0.44],[292.0,0.56],[292.6,0.48],[293.2,0.54],[293.8,0.42],[294.4,0.52],[295.0,0.46],[295.6,0.56],[296.2,0.50],[296.8,0.62],[297.4,0.48],[298.0,0.56],[298.6,0.64],[299.3,0.68],[299.8,0.60],[300.2,0.50],
  [301.4,0.66],[302.0,0.74],[302.8,0.91],[303.2,0.82],[303.8,0.70],[304.4,0.78],[305.0,0.66],[305.6,0.74],[306.2,0.62],[306.8,0.72],[307.4,0.68],[308.0,0.76],[308.6,0.64],[309.2,0.72],[309.8,0.70],[310.4,0.78],[311.0,0.66],[311.6,0.74],[312.2,0.70],[312.8,0.76],[313.4,0.64],[314.0,0.72],[314.6,0.68],[315.2,0.62],[315.8,0.70],[316.4,0.76],[317.0,0.66],[317.6,0.74],[318.2,0.70],[318.8,0.78],[319.4,0.72],[320.0,0.80],[320.6,0.68],[321.2,0.76],[321.8,0.74],[322.4,0.82],[323.0,0.76],[323.6,0.72],[324.2,0.80],[324.8,0.78],[325.4,0.82],[326.0,0.80],[326.6,0.78],
  [331.2,0.74],[331.8,0.80],[332.4,0.70],[333.0,0.86],[333.6,0.76],[334.2,0.92],[334.8,0.82],[335.4,0.66],[336.0,1.00],[336.6,0.88],[337.2,0.78],[337.8,0.94],[338.4,0.72],[339.0,0.84],[339.6,0.62],[340.2,0.76],[340.8,0.90],[341.4,0.68],[342.0,0.82],[342.6,0.74],[343.2,0.58],[343.8,0.80],[344.4,0.94],[345.0,0.70],[345.6,0.86],[346.2,1.00],[346.8,0.76],[347.4,0.64],[348.0,0.88],[348.6,0.55],[349.2,0.72],[349.8,0.80],[350.4,0.66],[351.0,0.60],[351.6,0.74],[352.2,0.70],
  [355.6,0.82],[356.2,0.74],[356.8,0.86],[357.4,0.70],[358.0,0.78],[358.6,0.66],[359.2,0.80],[359.8,0.72],[360.4,0.62],[361.0,0.76],[361.6,0.84],[362.2,0.70],[362.8,0.90],[363.4,0.76],[364.0,0.68],[364.6,0.82],[365.2,0.74],[365.8,0.80],[366.4,0.70],[367.0,0.78],[367.6,0.72],[368.2,0.82],[368.8,0.68],[369.4,0.76],[370.0,0.74],[370.6,0.80],[371.2,0.70],[371.8,0.78],[372.4,0.72],[373.0,0.84],[373.6,0.76],[374.2,0.80],[374.8,0.74],[375.4,0.78],[375.9,0.72],
  [479.5,1.30],[480.2,1.00],[480.4,0.96],[480.6,0.87],[480.8,0.74],[481.2,0.62],[481.6,0.48],[482.0,0.56],[482.6,0.64],[483.2,0.52],[483.8,0.60],[484.4,0.66],[485.0,0.54],[485.6,0.62],[486.2,0.50],[486.8,0.58],[487.4,0.64],[488.0,0.55],[488.6,0.60],[489.2,0.66],[489.8,0.52],[490.4,0.58],[491.0,0.48],[491.6,0.62],[492.2,0.56],[492.8,0.68],[493.4,0.54],[494.0,0.60],[494.6,0.50],[495.2,0.58],[495.8,0.46],[496.4,0.54],[497.0,0.62],[497.6,0.50],[498.2,0.44],[498.8,0.56],[499.4,0.48],[500.0,0.42],[500.6,0.52],[501.2,0.46],[501.8,0.40],[502.4,0.38],[503.0,0.50],[503.6,0.44],[504.2,0.54],[504.8,0.48],[505.4,0.58],[506.0,0.52],[506.6,0.62],[507.2,0.56],[507.8,0.60],[508.4,0.54],[509.0,0.64],[509.6,0.58],[510.2,0.62],[510.8,0.56],[511.4,0.60],[512.0,0.54],[512.6,0.62],[513.2,0.58],[513.8,0.60],[514.7,0.56],
  [521.8,0.56],[522.4,0.50],[523.0,0.62],[523.6,0.54],[524.2,0.58],[524.8,0.48],[525.4,0.60],[526.0,0.54],[526.6,0.66],[527.2,0.50],[527.8,0.58],[528.4,0.70],[529.0,0.56],[529.6,0.44],[530.2,0.62],[530.8,0.52],[531.4,0.40],[532.0,0.58],[532.6,0.66],[533.2,0.48],[533.8,0.56],[534.4,0.62],[535.0,0.50],[535.6,0.44],[536.2,0.60],[536.8,0.54],[537.4,0.68],[538.0,0.62],[538.5,0.78],[539.0,0.56],[539.6,0.46],[540.2,0.52],[540.8,0.40],[541.4,0.36],[542.0,0.50],[542.6,0.44],[543.2,0.58],[543.8,0.46],[544.4,0.62],[545.0,0.52],[545.6,0.40],[546.2,0.35],[546.8,0.56],[547.4,0.48],[548.0,0.64],[548.6,0.50],[549.2,0.42],[549.8,0.54],[550.4,0.46],[551.0,0.58],[551.8,0.50],[552.6,0.44],[553.4,0.56],[554.4,0.65],
  [575.5,0.58],[576.2,0.52],[577.0,0.56],[577.8,0.48],[578.6,0.54],[579.4,0.50],[580.2,0.58],[581.0,0.52],[581.8,0.55],[582.6,0.62],[583.4,0.56],[584.2,0.50],[585.0,0.58],[585.8,0.54],[586.6,0.60],[587.4,0.52],[588.2,0.56],[589.0,0.58],[589.8,0.54],[590.6,0.50],[591.4,0.58],[592.2,0.54],[593.0,0.60],[593.8,0.56],[594.6,0.52],[595.4,0.58],[596.2,0.50],[597.0,0.46],[597.8,0.40],[598.4,0.32],[599.0,0.36],[599.6,0.42],[600.2,0.38],[600.8,0.46],[601.4,0.44],[602.0,0.52],[602.6,0.50],[603.2,0.58],[603.8,0.56],[604.4,0.62],[605.0,0.60],[605.6,0.66],[606.3,0.67],
  [622.2,0.68],[622.6,0.76],[623.0,0.62],[623.4,0.72],[623.8,0.80],[624.2,0.66],[624.8,0.74],[625.4,0.70],[625.8,0.64],[626.2,0.81],[626.6,0.76],
  [631.0,0.48],[631.6,0.52],[632.2,0.46],[632.8,0.50],[633.4,0.54],[634.0,0.48],[634.6,0.56],[635.2,0.52],[635.8,0.58],[636.4,0.54],[637.0,0.62],[637.6,0.58],[638.2,0.64],[638.8,0.60],[639.4,0.66],[640.0,0.62],[640.6,0.70],[641.2,0.66],[641.8,0.72],[642.4,0.76],[643.0,0.68],[643.6,0.74],[644.2,0.81],[644.8,0.72],[645.4,0.78],[646.0,0.70],[646.6,0.76],[647.2,0.74],[647.8,0.80],[648.6,0.78]
];

// target band for the bottom panel
var bandTimes = [178.2, 677.2];
var bandLevels = [0.5, 1.0];

var FONT = 'DejaVu Sans';
var plusPath = 'path://M4,0H6V4H10V6H6V10H4V6H0V4H4Z';
var crossPath = 'path://M1.4,0L5,3.6L8.6,0L10,1.4L6.4,5L10,8.6L8.6,10L5,6.4L1.4,10L0,8.6L3.6,5L0,1.4Z';
var boldCrossPath = 'path://M2,0L5,3L8,0L10,2L7,5L10,8L8,10L5,7L2,10L0,8L3,5L0,2Z';
var triDownPath = 'path://M0,0L10,0L5,9Z';

function hhmm(v) {
  if (Math.abs(v % 60) > 1e-6) return '';
  var h = Math.round(v / 60);
  return (h < 10 ? '0' : '') + h + ':00';
}

function timeAxis(gridIndex) {
  return {
    type: 'value', gridIndex: gridIndex, min: 164.6, max: 691,
    minInterval: 60, maxInterval: 60,
    axisLine: { lineStyle: { color: '#000', width: 1.5 } },
    axisTick: { show: true, inside: true, length: 5, customValues: hourTicks, lineStyle: { color: '#000' } },
    axisLabel: { customValues: hourTicks, formatter: hhmm, color: '#000', fontSize: 15, fontFamily: FONT, margin: 5 },
    splitLine: { show: false }
  };
}

// hidden axis that only draws the 0.5 lines and the finest grid
function shadeAxis(gridIndex, min, max, minorSplit, topLine) {
  return {
    type: 'value', gridIndex: gridIndex, position: 'left', min: min, max: max,
    minInterval: 0.5, maxInterval: 0.5,
    axisLine: { show: false }, axisTick: { show: false }, axisLabel: { show: false },
    splitLine: { show: true, showMinLine: false, showMaxLine: topLine, lineStyle: { color: '#b4b4b4', width: 1 } },
    minorTick: { show: false, splitNumber: minorSplit },
    minorSplitLine: { show: true, lineStyle: { color: '#e4e4e4', width: 1 } }
  };
}

function labelAxis(gridIndex, min, max, step, fmt) {
  return {
    type: 'value', gridIndex: gridIndex, position: 'left', offset: 0, min: min, max: max, z: 1,
    minInterval: step, maxInterval: step,
    axisLine: { show: true, lineStyle: { color: '#000', width: 1.5 } },
    axisTick: { show: false },
    axisLabel: { formatter: fmt, color: '#000', fontSize: 15, fontFamily: FONT, margin: 7 },
    splitLine: { show: true, showMinLine: false, showMaxLine: false, lineStyle: { color: '#6e6e6e', width: 1 } }
  };
}

function intLabel(v) {
  return Math.abs(v - Math.round(v)) < 1e-9 ? String(Math.round(v)) : '';
}

function halfLabel(v) {
  if (Math.abs(v * 2 - Math.round(v * 2)) > 1e-9) return '';
  return Math.abs(v) < 1e-9 ? '0' : v.toFixed(1);
}

var bottomAxis = labelAxis(2, -0.2, 1.97, 0.5, halfLabel);
bottomAxis.minorTick = { show: false, splitNumber: 10 };
bottomAxis.minorSplitLine = { show: true, lineStyle: { color: '#e6e6e6', width: 1 } };

var titleStyle = { fontSize: 14.5, fontWeight: 'normal', fontFamily: FONT, color: '#000' };
var legendText = { fontSize: 13.5, fontFamily: FONT, color: '#000' };

var chart = echarts.init(document.getElementById('main'));
chart.setOption({
  animation: false,
  backgroundColor: '#fff',
  title: [
    { text: 'DIQ - 2025-07-20', left: 711, top: 17, textAlign: 'center', padding: 0, textStyle: titleStyle },
    { text: 'Guider — WFS', left: 711, top: 373, textAlign: 'center', padding: 0, textStyle: titleStyle },
    { text: 'BLIQ+HO+LO — BLIQ+HO', left: 711, top: 540, textAlign: 'center', padding: 0, textStyle: titleStyle }
  ],
  graphic: [{
    type: 'rect', z: 9, silent: true,
    shape: { x: 65, y: 45, width: 176, height: 92 },
    style: { fill: 'rgba(255,255,255,0.8)', stroke: '#333', lineWidth: 1.5 }
  }],
  legend: [
    {
      data: [
        { name: 'gc1', itemStyle: { borderWidth: 0 } },
        { name: 'wfs1', lineStyle: { color: '#c8c8c8', width: 2 } },
        'dimm'
      ],
      orient: 'vertical', left: 73, top: 59, z: 10, padding: 0,
      itemWidth: 22, itemHeight: 10, itemGap: 11, textStyle: legendText
    },
    {
      data: [
        { name: 'gc2', itemStyle: { borderWidth: 0 } },
        { name: 'wfs2', lineStyle: { color: '#c8c8c8', width: 2 } }
      ],
      orient: 'vertical', left: 168, top: 59, z: 10, padding: 0,
      itemWidth: 22, itemHeight: 10, itemGap: 11, textStyle: legendText
    }
  ],
  grid: [
    { left: 45, right: 23, top: 39, height: 300 },
    { left: 45, right: 23, top: 395, height: 110 },
    { left: 45, right: 23, top: 562, height: 109 }
  ],
  xAxis: [timeAxis(0), timeAxis(1), timeAxis(2)],
  yAxis: [
    shadeAxis(0, 0.28, 4.13, 5, false),
    labelAxis(0, 0.28, 4.13, 1, intLabel),
    shadeAxis(1, -1.33, 2.5, 2, true),
    labelAxis(1, -1.33, 2.5, 1, intLabel),
    bottomAxis
  ],
  series: [
    {
      name: 'gc1', type: 'scatter', xAxisIndex: 0, yAxisIndex: 1,
      symbol: crossPath, symbolSize: 9,
      itemStyle: { color: '#e3a53c', borderColor: 'rgba(224,192,135,0.9)', borderWidth: 1.5 },
      data: gc1Points
    },
    {
      name: 'gc2', type: 'scatter', xAxisIndex: 0, yAxisIndex: 1,
      symbol: plusPath, symbolSize: 11,
      itemStyle: { color: '#2b7b7b', borderColor: 'rgba(182,204,204,0.9)', borderWidth: 1.5 },
      data: gc2Points
    },
    {
      name: 'wfs1', type: 'line', xAxisIndex: 0, yAxisIndex: 1,
      symbol: 'diamond', symbolSize: [10, 12], showAllSymbol: true,
      lineStyle: { color: '#c8c8c8', width: 0.8 },
      itemStyle: { color: '#ffb000', borderColor: '#ff2800', borderWidth: 1 },
      data: wfs1Points
    },
    {
      name: 'wfs2', type: 'line', xAxisIndex: 0, yAxisIndex: 1,
      symbol: triDownPath, symbolSize: 9, showAllSymbol: true,
      lineStyle: { color: '#c8c8c8', width: 1.5 },
      itemStyle: { color: '#555560', borderColor: '#222', borderWidth: 0.5 },
      data: wfs2Points
    },
    {
      name: 'dimm', type: 'line', xAxisIndex: 0, yAxisIndex: 1,
      symbol: 'circle', symbolSize: 7, showAllSymbol: true,
      lineStyle: { color: '#0000e0', width: 2 },
      itemStyle: { color: '#e6e64a', borderColor: '#0000e0', borderWidth: 2 },
      data: dimmPoints
    },
    {
      name: 'guider', type: 'line', xAxisIndex: 1, yAxisIndex: 3,
      symbol: 'circle', symbolSize: 10.5, showAllSymbol: true,
      lineStyle: { color: '#c8c8c8', width: 0.8 },
      itemStyle: { color: '#7e0a80', borderColor: 'rgba(205,180,215,0.95)', borderWidth: 1.6 },
      data: guiderPoints
    },
    {
      name: 'wfs flag', type: 'scatter', xAxisIndex: 1, yAxisIndex: 3,
      symbol: boldCrossPath, symbolSize: 10,
      itemStyle: { color: '#ff0000' },
      data: wfsFlagPoints
    },
    {
      name: 'bliq', type: 'scatter', xAxisIndex: 2, yAxisIndex: 4,
      symbol: 'circle', symbolSize: 9,
      itemStyle: { color: '#0b0b7e', borderColor: 'rgba(205,205,232,0.95)', borderWidth: 1.2 },
      markArea: {
        silent: true,
        itemStyle: { color: 'rgba(250,205,205,0.3)' },
        data: [[{ xAxis: bandTimes[0], yAxis: bandLevels[0] }, { xAxis: bandTimes[1], yAxis: bandLevels[1] }]]
      },
      markLine: {
        silent: true, symbol: ['none', 'none'], label: { show: false },
        lineStyle: { color: '#9e1a1a', type: 'dashed', width: 1 },
        data: [
          [{ coord: [bandTimes[0], bandLevels[0]] }, { coord: [bandTimes[1], bandLevels[0]] }],
          [{ coord: [bandTimes[0], bandLevels[1]] }, { coord: [bandTimes[1], bandLevels[1]] }]
        ]
      },
      data: bliqPoints
    }
  ]
});
</script>
</body>
</html>
